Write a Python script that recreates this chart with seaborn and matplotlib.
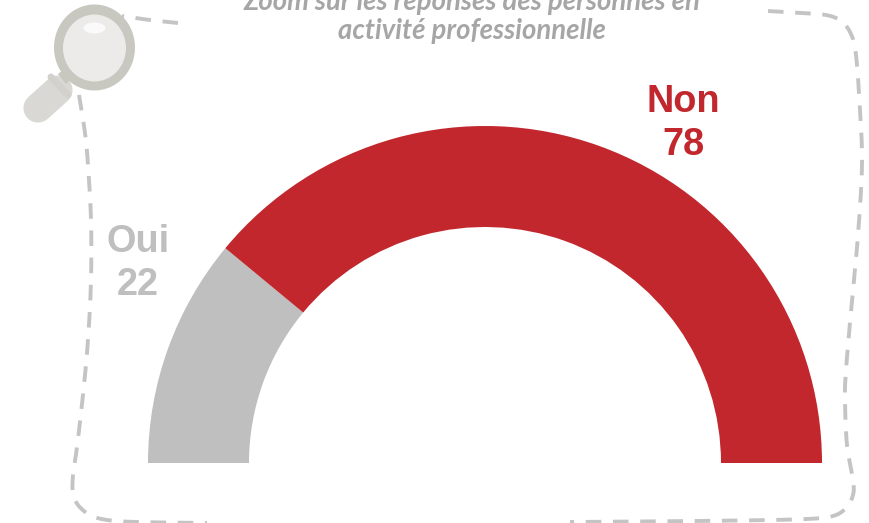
import numpy as np
import matplotlib
matplotlib.use("Agg")
import matplotlib.pyplot as plt
from matplotlib.patches import Ellipse, Polygon
import seaborn as sns

# Data
categories = ["Oui", "Non"]
values = [22, 78]
colors = ["#BFBFBF", "#C1272D"]
title_lines = ["Zoom sur les réponses des personnes en", "activité professionnelle"]

W, H = 869, 523
sns.set_theme(style="white")
plt.rcParams["font.family"] = ["Liberation Sans", "DejaVu Sans"]

fig = plt.figure(figsize=(W / 100, H / 100), dpi=100)
ax = fig.add_axes([0, 0, 1, 1])


def Y(y):
    return H - y


def smooth(pts, n=24):
    """Catmull-Rom smoothing through decoration points given in pixel coordinates."""
    p = np.array(pts, float)
    p = np.vstack([2 * p[0] - p[1], p, 2 * p[-1] - p[-2]])
    out = []
    for i in range(1, len(p) - 2):
        for t in np.linspace(0, 1, n, endpoint=False):
            out.append(0.5 * ((2 * p[i]) + (-p[i - 1] + p[i + 1]) * t
                              + (2 * p[i - 1] - 5 * p[i] + 4 * p[i + 1] - p[i + 2]) * t ** 2
                              + (-p[i - 1] + 3 * p[i] - 3 * p[i + 1] + p[i + 2]) * t ** 3))
    out.append(p[-2])
    return np.array(out)


# Half doughnut: the hidden wedge equals the visible total
total = sum(values)
ax.pie(values + [total], colors=colors + ["none"], startangle=180, counterclock=False,
       radius=337, center=(485, Y(463)), frame=True,
       wedgeprops=dict(width=101, linewidth=0))

# Dashed frame
dash_color = "#C4C4C4"
frame_right = [(768, 11), (800, 13), (826, 15), (841, 21), (851, 34), (856, 55), (860, 110),
               (862, 165), (858, 235), (852, 300), (846, 370), (845, 400), (847, 445),
               (853, 480), (853, 495), (846, 508), (833, 516), (807, 519), (740, 520.5),
               (640, 521.5), (570, 522)]
frame_left = [(178, 23), (150, 20), (122, 16)]
frame_left2 = [(79, 95), (85, 133), (88, 165), (91, 220), (91, 280), (88, 340), (83, 395),
               (77, 447), (73, 475), (73, 493), (78, 505), (90, 515), (107, 520), (137, 522),
               (207, 523)]
for pts in (frame_right, frame_left, frame_left2):
    s = smooth(pts)
    ax.plot(s[:, 0], Y(s[:, 1]), color=dash_color, lw=2.8, ls=(0, (4.0, 3.0)),
            dash_capstyle="butt", zorder=1)

# Magnifier
ring, glass, grip = "#C8C7C0", "#ECEBEA", "#D9D8D5"
ax.plot([38, 58], [Y(108), Y(90)], color=grip, lw=21, solid_capstyle="round", zorder=2)
ax.plot([51, 68], [Y(77), Y(95)], color="#D2D1CC", lw=5, solid_capstyle="round", zorder=3)
ax.add_patch(Polygon([(58, Y(74)), (66, Y(84)), (76, Y(74)), (68, Y(66))], closed=True,
                     fc=ring, ec="none", zorder=3))
ax.add_patch(Ellipse((94.5, Y(47.5)), 81, 86, fc=ring, ec="none", zorder=4))
ax.add_patch(Ellipse((94.5, Y(48)), 63, 67, fc=glass, ec="none", zorder=5))
ax.add_patch(Ellipse((94.5, Y(28)), 22, 11, fc="#FAFAFA", ec="none", zorder=6))

# Title
for line, y in zip(title_lines, [10, 39]):
    ax.text(472, Y(y), line, ha="center", va="baseline", fontsize=19.8, style="italic",
            weight="bold", color="#A6A6A6", family=["Lato", "DejaVu Sans"])

# Labels
label_x = [138, 683]
label_y = [252, 112]
for cat, val, col, x, y in zip(categories, values, colors, label_x, label_y):
    ax.text(x, Y(y), cat, ha="center", va="baseline", fontsize=27.3, weight="bold", color=col)
    ax.text(x, Y(y + 43), str(val), ha="center", va="baseline", fontsize=27.3, weight="bold", color=col)

ax.set_xlim(0, W)
ax.set_ylim(0, H)
ax.set_aspect("equal")
ax.set_axis_off()
sns.despine(ax=ax, left=True, bottom=True)
fig.savefig("out.png", dpi=100, facecolor="white")
